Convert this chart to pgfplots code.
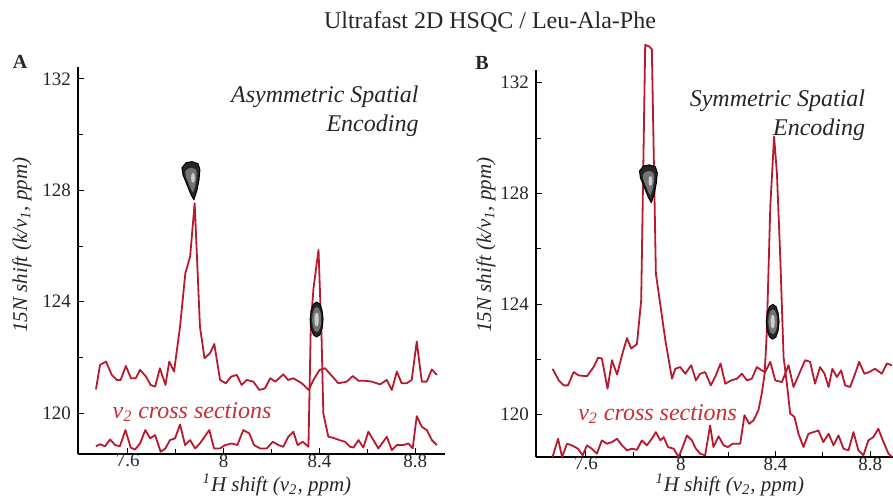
\documentclass[border=0pt]{standalone}
\usepackage{fontspec}
\setmainfont{Liberation Serif}
\usepackage{pgfplots}
\usepackage{pgfplotstable}
\pgfplotsset{compat=1.18}
\definecolor{trace}{RGB}{185,25,45}
\definecolor{lbl}{RGB}{205,45,50}

\pgfplotstableread{
x y
7.467 120.85
7.484 121.73
7.509 121.85
7.533 121.37
7.554 121.19
7.570 121.19
7.592 121.69
7.613 121.25
7.633 121.25
7.651 121.55
7.676 121.31
7.695 121.01
7.714 120.95
7.734 121.61
7.757 121.01
7.773 121.85
7.793 121.49
7.818 123.11
7.840 125.02
7.860 125.62
7.879 127.54
7.901 123.11
7.920 121.97
7.943 122.15
7.961 122.48
7.985 121.19
8.009 121.07
8.031 121.31
8.055 121.37
8.075 121.01
8.096 121.19
8.124 121.13
8.149 120.83
8.173 120.89
8.194 121.25
8.216 121.13
8.249 121.39
8.269 121.19
8.291 121.25
8.326 121.07
8.355 120.83
8.375 121.19
8.400 121.55
8.423 121.61
8.448 121.37
8.479 121.07
8.514 121.13
8.539 121.33
8.563 121.16
8.590 121.16
8.618 121.13
8.653 121.03
8.681 121.19
8.702 120.83
8.723 121.49
8.743 121.07
8.764 121.07
8.785 121.19
8.806 122.57
8.827 121.13
8.848 121.13
8.869 121.57
8.890 121.37
}\Aupper

\pgfplotstableread{
x y
7.467 118.81
7.484 118.88
7.505 118.81
7.526 119.05
7.547 118.85
7.567 118.81
7.590 119.39
7.612 118.76
7.630 118.69
7.651 118.91
7.673 119.39
7.693 119.09
7.714 119.21
7.737 118.61
7.757 118.73
7.776 119.03
7.797 119.09
7.818 119.59
7.839 118.85
7.860 119.03
7.881 118.73
7.901 118.91
7.940 119.39
7.960 118.73
7.985 118.73
8.006 118.85
8.034 118.91
8.057 118.85
8.082 119.39
8.107 119.27
8.127 118.85
8.152 118.73
8.180 118.73
8.205 118.97
8.229 118.85
8.249 118.79
8.270 119.15
8.291 119.33
8.309 118.85
8.330 118.97
8.354 118.79
8.364 123.23
8.375 124.48
8.396 125.86
8.409 122.63
8.416 119.99
8.437 119.15
8.458 119.11
8.483 119.03
8.507 118.97
8.528 118.79
8.542 118.76
8.563 119.03
8.583 118.76
8.604 119.33
8.625 119.03
8.646 118.73
8.681 119.15
8.702 118.67
8.723 118.85
8.750 118.85
8.771 118.91
8.789 118.73
8.806 119.89
8.827 119.51
8.848 119.39
8.869 119.03
8.890 118.85
}\Alower

\pgfplotstableread{
x y
7.459 121.66
7.485 121.24
7.506 121.06
7.524 121.06
7.548 121.54
7.569 121.42
7.604 121.39
7.632 121.72
7.651 122.06
7.667 122.03
7.691 120.94
7.710 121.97
7.731 121.45
7.752 122.15
7.773 122.77
7.791 122.39
7.815 122.55
7.833 124.14
7.850 133.37
7.867 133.31
7.878 133.21
7.895 125.10
7.907 124.38
7.935 122.69
7.963 121.30
7.977 121.66
7.998 121.72
8.019 121.48
8.044 121.79
8.064 121.24
8.082 121.48
8.103 121.54
8.127 121.06
8.148 121.42
8.168 121.85
8.188 121.12
8.213 121.24
8.237 121.30
8.258 121.48
8.279 121.24
8.300 121.30
8.321 121.72
8.342 121.60
8.356 121.54
8.378 121.91
8.399 121.24
8.427 121.18
8.455 121.79
8.476 121.00
8.497 121.42
8.525 121.97
8.546 121.91
8.567 121.12
8.588 121.72
8.607 121.48
8.624 121.00
8.640 121.66
8.659 121.36
8.677 121.60
8.694 121.06
8.715 121.00
8.736 121.48
8.753 121.91
8.775 121.48
8.795 121.54
8.820 121.66
8.849 121.48
8.870 121.85
8.891 121.79
}\Bupper

\pgfplotstableread{
x y
7.459 118.47
7.482 119.13
7.499 118.47
7.520 118.95
7.541 118.89
7.566 118.77
7.586 118.53
7.604 118.89
7.625 118.77
7.646 118.59
7.667 119.07
7.689 118.95
7.710 119.01
7.731 119.13
7.752 118.89
7.773 118.71
7.794 118.77
7.815 118.73
7.836 119.07
7.857 118.89
7.878 119.13
7.895 119.37
7.914 119.07
7.928 119.19
7.946 118.83
7.970 118.77
7.991 118.47
8.008 118.83
8.026 119.25
8.047 119.07
8.064 118.77
8.082 118.59
8.103 118.53
8.124 119.61
8.138 118.83
8.160 119.22
8.181 118.89
8.199 118.83
8.219 118.95
8.251 118.95
8.269 119.98
8.289 119.67
8.307 119.79
8.328 120.16
8.342 120.76
8.354 121.48
8.363 122.93
8.378 127.52
8.394 130.05
8.406 128.72
8.420 125.71
8.434 122.09
8.448 121.12
8.462 120.04
8.480 119.92
8.497 119.31
8.518 118.83
8.539 119.31
8.560 119.37
8.581 119.43
8.602 119.01
8.624 119.31
8.645 118.89
8.666 119.25
8.687 118.77
8.708 118.71
8.729 119.37
8.750 118.71
8.771 118.53
8.792 119.07
8.813 119.19
8.834 119.49
8.856 119.01
8.877 118.59
8.891 118.47
}\Blower

% contour blobs
\pgfplotstableread{
x y
7.843 128.99
7.868 129.03
7.893 128.96
7.901 128.74
7.897 128.38
7.889 128.02
7.876 127.66
7.864 127.84
7.847 128.20
7.830 128.56
7.826 128.81
7.843 128.99
}\BlobOneOut
\pgfplotstableread{
x y
7.851 128.78
7.867 128.81
7.883 128.76
7.888 128.62
7.886 128.39
7.881 128.15
7.872 127.92
7.864 128.04
7.853 128.27
7.842 128.50
7.840 128.67
7.851 128.78
}\BlobOneMid
\pgfplotstableread{
x y
7.880 128.45
7.878 128.58
7.872 128.63
7.866 128.58
7.864 128.45
7.866 128.32
7.872 128.27
7.878 128.32
7.880 128.45
}\BlobOneIn
\pgfplotstableread{
x y
8.415 123.36
8.411 123.68
8.402 123.91
8.388 123.99
8.375 123.91
8.365 123.68
8.361 123.36
8.365 123.04
8.375 122.81
8.388 122.73
8.402 122.81
8.411 123.04
8.415 123.36
}\BlobTwoOut
\pgfplotstableread{
x y
8.407 123.36
8.405 123.59
8.398 123.75
8.388 123.81
8.379 123.75
8.372 123.59
8.369 123.36
8.372 123.13
8.379 122.97
8.388 122.91
8.398 122.97
8.405 123.13
8.407 123.36
}\BlobTwoMid
\pgfplotstableread{
x y
8.397 123.36
8.396 123.49
8.393 123.58
8.388 123.61
8.384 123.58
8.380 123.49
8.379 123.36
8.380 123.23
8.384 123.14
8.388 123.11
8.393 123.14
8.396 123.23
8.397 123.36
}\BlobTwoIn

\pgfplotsset{
  nmr/.style={
    scale only axis,
    anchor=south west,
    axis x line*=bottom,
    axis y line*=left,
    axis line style={-, line width=0.9pt, black},
    tick align=inside,
    xtick={7.6,8,8.4,8.8},
    ytick={120,124,128,132},
    minor xtick={7.8,8.2,8.6},
    minor ytick={122,126,130},
    major tick length=3pt,
    minor tick length=2.5pt,
    every tick/.style={black, line width=0.5pt},
    /pgf/number format/assume math mode=true,
    tick label style={font=\fontsize{9.5}{11}\selectfont, color=black!85},
    xticklabel style={inner sep=1pt, yshift=1pt},
    xticklabels={7.6,8,8.4,8.8},
    yticklabels={120,124,128,132},
    clip=false,
    label style={font=\fontsize{10.5}{12}\selectfont, color=black!85, inner sep=0.5pt},
    xlabel={\textit{\textsuperscript{1}H shift (ν\textsubscript{2}, ppm)}},
    ylabel={\textit{15N shift (k/ν\textsubscript{1}, ppm)}},
  },
  trc/.style={color=trace, line width=0.9pt, line join=round, mark=none},
  blobout/.style={draw=black, line width=0.5pt, fill=black!85, mark=none, line join=round},
  blobmid/.style={draw=none, fill=black!55, mark=none},
  blobin/.style={draw=none, fill=black!20, mark=none},
}

\begin{document}
\begin{tikzpicture}
\useasboundingbox (-39pt,-22pt) rectangle (407.5pt,227pt);

\begin{axis}[nmr,
  at={(0pt,0pt)},
  width=183.5pt, height=193.5pt,
  xmin=7.392, xmax=8.924, ymin=118.53, ymax=132.43,
  xlabel style={at={(axis description cs:0.542,-0.079)}, anchor=center},
  ylabel style={at={(axis description cs:-0.153,0.54)}, anchor=center},
]
\addplot[trc] table {\Aupper};
\addplot[trc] table {\Alower};
\addplot[blobout] table {\BlobOneOut};
\addplot[blobmid] table {\BlobOneMid};
\addplot[blobin] table {\BlobOneIn};
\addplot[blobout] table {\BlobTwoOut};
\addplot[blobmid] table {\BlobTwoMid};
\addplot[blobin] table {\BlobTwoIn};
\node[anchor=north east, align=right, font=\fontsize{12}{14.5}\selectfont\itshape, text=black!85, inner sep=0pt]
  at (axis cs:8.815,131.75) {Asymmetric Spatial\\Encoding};
\node[anchor=base west, font=\fontsize{12}{14}\selectfont\itshape, text=lbl, inner sep=0pt]
  at (axis cs:7.535,119.82) {ν\textsubscript{2} cross sections};
\node[font=\fontsize{10}{12}\selectfont\bfseries, text=black!85] at (rel axis cs:-0.158,1.013) {A};
\end{axis}

\begin{axis}[nmr,
  at={(229pt,-1.5pt)},
  width=178.5pt, height=193.5pt,
  xmin=7.389, xmax=8.896, ymin=118.47, ymax=132.46,
  xlabel style={at={(axis description cs:0.543,-0.071)}, anchor=center},
  ylabel style={at={(axis description cs:-0.140,0.548)}, anchor=center},
]
\addplot[trc] table {\Bupper};
\addplot[trc] table {\Blower};
\addplot[blobout] table {\BlobOneOut};
\addplot[blobmid] table {\BlobOneMid};
\addplot[blobin] table {\BlobOneIn};
\addplot[blobout] table {\BlobTwoOut};
\addplot[blobmid] table {\BlobTwoMid};
\addplot[blobin] table {\BlobTwoIn};
\node[anchor=north east, align=right, font=\fontsize{12}{14.5}\selectfont\itshape, text=black!85, inner sep=0pt]
  at (axis cs:8.78,131.75) {Symmetric Spatial\\Encoding};
\node[anchor=base west, font=\fontsize{12}{14}\selectfont\itshape, text=lbl, inner sep=0pt]
  at (axis cs:7.566,119.80) {ν\textsubscript{2} cross sections};
\node[font=\fontsize{10}{12}\selectfont\bfseries, text=black!85] at (rel axis cs:-0.151,1.018) {B};
\end{axis}

\node[font=\fontsize{12}{14}\selectfont, text=black!85] at (206pt,216pt) {Ultrafast 2D HSQC / Leu-Ala-Phe};
\end{tikzpicture}
\end{document}
